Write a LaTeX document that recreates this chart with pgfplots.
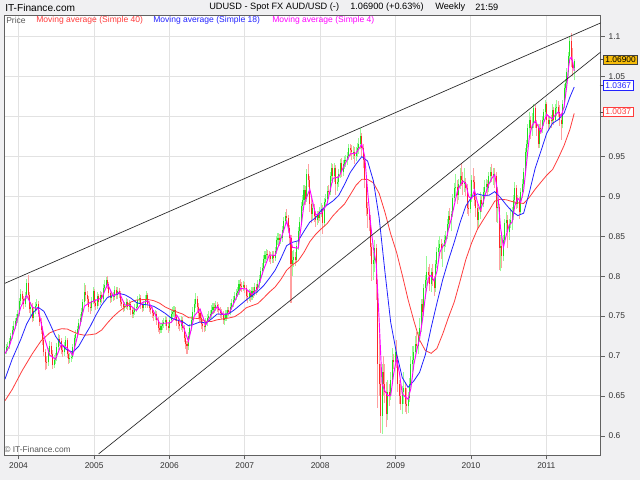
\documentclass[border=0pt]{standalone}
\usepackage{fontspec}
\setmainfont{Liberation Sans}
\usepackage{pgfplots}
\usepackage{pgfplotstable}
\pgfplotsset{compat=1.18}
\definecolor{bgc}{RGB}{240,240,242}
\definecolor{upw}{RGB}{150,250,150}
\definecolor{dnw}{RGB}{255,160,160}
\definecolor{upb}{RGB}{30,225,30}
\definecolor{dnb}{RGB}{255,40,40}
\definecolor{smaA}{RGB}{255,60,60}
\definecolor{smaB}{RGB}{35,35,255}
\definecolor{smaC}{RGB}{255,0,255}
\definecolor{goldc}{RGB}{246,188,10}
\definecolor{gridc}{RGB}{226,226,226}

% weekly bars: week index (0 = 27 Oct 2003), low, high, c=1 up / 0 down
\pgfplotstableread{
w lo hi c
0 0.697 0.710 1
1 0.702 0.715 1
2 0.706 0.718 1
3 0.709 0.723 1
4 0.716 0.729 1
5 0.721 0.737 1
6 0.728 0.744 1
7 0.734 0.748 1
8 0.738 0.752 1
9 0.741 0.757 1
10 0.750 0.773 1
11 0.764 0.784 1
12 0.765 0.782 0
13 0.759 0.775 0
14 0.761 0.780 1
15 0.771 0.797 1
16 0.772 0.801 0
17 0.754 0.780 0
18 0.750 0.768 1
19 0.742 0.766 0
20 0.744 0.761 1
21 0.752 0.768 1
22 0.756 0.772 1
23 0.749 0.769 0
24 0.738 0.757 0
25 0.728 0.748 0
26 0.714 0.737 0
27 0.700 0.724 0
28 0.682 0.709 0
29 0.684 0.700 0
30 0.688 0.710 1
31 0.701 0.719 1
32 0.699 0.717 0
33 0.684 0.707 0
34 0.685 0.701 1
35 0.690 0.704 1
36 0.694 0.716 1
37 0.707 0.727 1
38 0.713 0.726 0
39 0.702 0.722 0
40 0.699 0.712 0
41 0.700 0.717 1
42 0.708 0.725 1
43 0.698 0.723 0
44 0.690 0.707 0
45 0.691 0.704 1
46 0.693 0.705 1
47 0.696 0.715 1
48 0.708 0.726 1
49 0.717 0.733 1
50 0.723 0.738 1
51 0.729 0.746 1
52 0.737 0.752 1
53 0.743 0.760 1
54 0.751 0.772 1
55 0.764 0.792 1
56 0.769 0.789 0
57 0.765 0.781 0
58 0.755 0.775 0
59 0.753 0.767 0
60 0.756 0.774 1
61 0.765 0.786 1
62 0.761 0.784 0
63 0.757 0.771 0
64 0.759 0.780 1
65 0.763 0.778 0
66 0.764 0.781 1
67 0.766 0.780 0
68 0.768 0.790 1
69 0.780 0.795 1
70 0.785 0.799 1
71 0.784 0.800 0
72 0.773 0.793 0
73 0.767 0.783 0
74 0.768 0.780 1
75 0.769 0.780 0
76 0.770 0.788 1
77 0.771 0.787 0
78 0.772 0.786 1
79 0.773 0.785 0
80 0.763 0.782 0
81 0.760 0.772 0
82 0.755 0.769 0
83 0.756 0.768 1
84 0.759 0.773 1
85 0.757 0.772 0
86 0.758 0.770 1
87 0.751 0.768 0
88 0.747 0.761 0
89 0.748 0.760 1
90 0.751 0.765 1
91 0.755 0.768 1
92 0.758 0.775 1
93 0.765 0.778 1
94 0.759 0.777 0
95 0.755 0.768 0
96 0.756 0.769 1
97 0.760 0.777 1
98 0.768 0.781 1
99 0.760 0.779 0
100 0.755 0.769 0
101 0.752 0.764 0
102 0.748 0.762 0
103 0.744 0.758 0
104 0.745 0.757 1
105 0.739 0.756 0
106 0.730 0.749 0
107 0.727 0.740 0
108 0.729 0.741 1
109 0.733 0.745 1
110 0.735 0.748 1
111 0.737 0.750 1
112 0.732 0.749 0
113 0.729 0.741 0
114 0.731 0.750 1
115 0.741 0.757 1
116 0.747 0.761 1
117 0.749 0.763 1
118 0.744 0.761 0
119 0.738 0.753 0
120 0.734 0.748 0
121 0.731 0.745 0
122 0.733 0.750 1
123 0.730 0.749 0
124 0.717 0.739 0
125 0.709 0.726 0
126 0.703 0.719 0
127 0.708 0.730 1
128 0.721 0.740 1
129 0.731 0.750 1
130 0.741 0.761 1
131 0.751 0.771 1
132 0.760 0.779 1
133 0.756 0.775 0
134 0.747 0.767 0
135 0.741 0.759 0
136 0.734 0.752 0
137 0.730 0.745 0
138 0.730 0.742 0
139 0.731 0.747 1
140 0.738 0.752 1
141 0.742 0.756 1
142 0.745 0.757 1
143 0.747 0.764 1
144 0.753 0.767 1
145 0.754 0.766 0
146 0.756 0.769 1
147 0.755 0.768 0
148 0.751 0.765 0
149 0.748 0.761 0
150 0.746 0.759 0
151 0.740 0.756 0
152 0.739 0.753 1
153 0.744 0.757 1
154 0.748 0.762 1
155 0.750 0.762 0
156 0.751 0.767 1
157 0.757 0.772 1
158 0.762 0.775 1
159 0.766 0.780 1
160 0.770 0.784 1
161 0.774 0.786 1
162 0.777 0.795 1
163 0.782 0.797 0
164 0.780 0.793 0
165 0.781 0.794 1
166 0.779 0.793 0
167 0.769 0.789 0
168 0.767 0.781 0
169 0.769 0.784 1
170 0.768 0.783 0
171 0.770 0.786 1
172 0.773 0.786 0
173 0.775 0.791 1
174 0.777 0.790 0
175 0.779 0.795 1
176 0.785 0.801 1
177 0.792 0.811 1
178 0.801 0.816 1
179 0.806 0.826 1
180 0.816 0.831 1
181 0.820 0.834 1
182 0.821 0.833 0
183 0.818 0.832 0
184 0.815 0.830 0
185 0.817 0.831 1
186 0.817 0.831 0
187 0.819 0.837 1
188 0.828 0.850 1
189 0.839 0.854 1
190 0.838 0.853 0
191 0.840 0.853 1
192 0.843 0.863 1
193 0.854 0.874 1
194 0.864 0.880 1
195 0.866 0.884 0
196 0.854 0.877 0
197 0.840 0.864 0
198 0.767 0.852 0
199 0.800 0.832 1
200 0.812 0.833 1
201 0.813 0.830 0
202 0.816 0.843 1
203 0.833 0.862 1
204 0.852 0.874 1
205 0.864 0.893 1
206 0.882 0.901 1
207 0.889 0.914 1
208 0.889 0.913 0
209 0.893 0.934 1
210 0.912 0.940 0
211 0.880 0.925 0
212 0.866 0.898 0
213 0.871 0.892 1
214 0.868 0.890 0
215 0.862 0.881 0
216 0.864 0.882 1
217 0.867 0.881 0
218 0.869 0.886 1
219 0.874 0.891 1
220 0.853 0.889 0
221 0.862 0.898 1
222 0.886 0.903 1
223 0.891 0.913 1
224 0.898 0.914 0
225 0.901 0.931 1
226 0.919 0.942 1
227 0.917 0.941 0
228 0.918 0.942 1
229 0.902 0.939 0
230 0.906 0.925 1
231 0.912 0.934 1
232 0.923 0.947 1
233 0.924 0.948 0
234 0.925 0.946 1
235 0.934 0.951 1
236 0.937 0.952 1
237 0.939 0.956 1
238 0.945 0.966 1
239 0.950 0.966 0
240 0.946 0.964 0
241 0.947 0.963 1
242 0.941 0.962 0
243 0.944 0.962 1
244 0.949 0.967 1
245 0.953 0.973 1
246 0.959 0.985 1
247 0.951 0.979 0
248 0.935 0.966 0
249 0.910 0.950 0
250 0.875 0.925 0
251 0.860 0.893 0
252 0.856 0.884 0
253 0.825 0.877 0
254 0.794 0.842 0
255 0.795 0.830 1
256 0.805 0.845 1
257 0.770 0.840 0
258 0.635 0.795 0
259 0.650 0.727 0
260 0.604 0.690 0
261 0.603 0.690 1
262 0.650 0.700 0
263 0.641 0.690 0
264 0.611 0.668 0
265 0.620 0.670 1
266 0.638 0.665 0
267 0.645 0.680 1
268 0.666 0.710 1
269 0.684 0.703 0
270 0.688 0.712 1
271 0.685 0.720 0
272 0.655 0.700 0
273 0.640 0.670 0
274 0.633 0.665 0
275 0.627 0.662 1
276 0.640 0.680 1
277 0.630 0.667 0
278 0.627 0.660 0
279 0.629 0.655 1
280 0.643 0.672 1
281 0.660 0.700 1
282 0.680 0.712 1
283 0.682 0.712 1
284 0.700 0.725 1
285 0.705 0.730 0
286 0.702 0.730 1
287 0.718 0.748 1
288 0.730 0.772 1
289 0.748 0.772 0
290 0.750 0.790 1
291 0.772 0.801 1
292 0.788 0.825 1
293 0.792 0.812 0
294 0.782 0.815 0
295 0.780 0.810 1
296 0.788 0.815 0
297 0.775 0.800 0
298 0.780 0.820 1
299 0.810 0.836 1
300 0.820 0.845 1
301 0.828 0.850 1
302 0.822 0.846 0
303 0.812 0.842 1
304 0.830 0.852 1
305 0.836 0.857 1
306 0.846 0.871 1
307 0.858 0.881 1
308 0.860 0.885 0
309 0.856 0.882 1
310 0.874 0.903 1
311 0.893 0.916 1
312 0.900 0.928 1
313 0.890 0.920 0
314 0.895 0.921 1
315 0.909 0.935 1
316 0.913 0.942 0
317 0.902 0.930 0
318 0.905 0.935 1
319 0.900 0.923 0
320 0.878 0.915 0
321 0.875 0.892 0
322 0.879 0.903 1
323 0.893 0.927 1
324 0.909 0.935 0
325 0.888 0.926 0
326 0.874 0.900 0
327 0.858 0.890 0
328 0.860 0.886 1
329 0.872 0.905 1
330 0.880 0.900 0
331 0.886 0.911 1
332 0.898 0.920 1
333 0.904 0.921 1
334 0.900 0.920 0
335 0.905 0.930 1
336 0.916 0.937 1
337 0.918 0.940 0
338 0.914 0.935 1
339 0.910 0.936 0
340 0.868 0.930 0
341 0.866 0.912 1
342 0.808 0.890 0
343 0.806 0.852 1
344 0.810 0.855 0
345 0.819 0.851 1
346 0.842 0.872 1
347 0.855 0.880 1
348 0.835 0.876 0
349 0.845 0.871 1
350 0.860 0.885 1
351 0.858 0.887 1
352 0.870 0.901 1
353 0.890 0.918 1
354 0.884 0.914 0
355 0.885 0.902 1
356 0.872 0.899 0
357 0.877 0.910 1
358 0.898 0.921 1
359 0.910 0.935 1
360 0.926 0.960 1
361 0.945 0.971 1
362 0.960 0.990 1
363 0.978 1.006 1
364 0.972 1.001 0
365 0.976 1.004 1
366 0.985 1.016 1
367 0.986 1.014 0
368 0.976 0.996 0
369 0.960 0.990 0
370 0.961 0.990 1
371 0.978 0.995 0
372 0.979 1.000 1
373 0.988 1.009 1
374 1.000 1.020 1
375 0.990 1.018 0
376 0.983 1.001 0
377 0.984 1.000 1
378 0.986 1.002 0
379 0.992 1.015 1
380 0.989 1.012 0
381 0.993 1.016 1
382 1.001 1.021 1
383 0.999 1.019 0
384 0.988 1.014 0
385 0.971 1.004 0
386 0.985 1.020 1
387 1.010 1.040 1
388 1.028 1.047 1
389 1.034 1.060 1
390 1.050 1.081 1
391 1.068 1.100 1
392 1.062 1.105 0
393 1.050 1.085 0
394 1.045 1.072 1
}\price

% weekly open and close (bodies)
\pgfplotstableread{
w o cl
0 0.700 0.705
1 0.705 0.711
2 0.711 0.713
3 0.713 0.719
4 0.719 0.725
5 0.725 0.733
6 0.733 0.738
7 0.738 0.744
8 0.744 0.747
9 0.747 0.752
10 0.752 0.769
11 0.769 0.778
12 0.778 0.771
13 0.771 0.765
14 0.765 0.775
15 0.775 0.792
16 0.792 0.776
17 0.776 0.759
18 0.759 0.762
19 0.762 0.747
20 0.747 0.756
21 0.756 0.763
22 0.763 0.765
23 0.765 0.753
24 0.753 0.743
25 0.743 0.733
26 0.733 0.720
27 0.720 0.705
28 0.705 0.693
29 0.693 0.692
30 0.692 0.705
31 0.705 0.713
32 0.713 0.703
33 0.703 0.689
34 0.689 0.695
35 0.695 0.698
36 0.698 0.711
37 0.711 0.721
38 0.721 0.719
39 0.719 0.707
40 0.707 0.705
41 0.705 0.712
42 0.712 0.720
43 0.720 0.703
44 0.703 0.696
45 0.696 0.698
46 0.698 0.699
47 0.699 0.711
48 0.711 0.722
49 0.722 0.727
50 0.727 0.734
51 0.734 0.741
52 0.741 0.747
53 0.747 0.755
54 0.755 0.768
55 0.768 0.780
56 0.780 0.776
57 0.776 0.771
58 0.771 0.761
59 0.761 0.760
60 0.760 0.769
61 0.769 0.781
62 0.781 0.766
63 0.766 0.763
64 0.763 0.775
65 0.775 0.768
66 0.768 0.776
67 0.776 0.771
68 0.771 0.785
69 0.785 0.789
70 0.789 0.795
71 0.795 0.790
72 0.790 0.779
73 0.779 0.773
74 0.773 0.775
75 0.775 0.774
76 0.774 0.783
77 0.783 0.776
78 0.776 0.782
79 0.782 0.779
80 0.779 0.768
81 0.768 0.765
82 0.765 0.761
83 0.761 0.763
84 0.763 0.768
85 0.768 0.762
86 0.762 0.765
87 0.765 0.757
88 0.757 0.752
89 0.752 0.755
90 0.755 0.760
91 0.760 0.762
92 0.762 0.770
93 0.770 0.773
94 0.773 0.764
95 0.764 0.760
96 0.760 0.764
97 0.764 0.772
98 0.772 0.776
99 0.776 0.765
100 0.765 0.760
101 0.760 0.758
102 0.758 0.754
103 0.754 0.750
104 0.750 0.752
105 0.752 0.745
106 0.745 0.735
107 0.735 0.733
108 0.733 0.737
109 0.737 0.740
110 0.740 0.742
111 0.742 0.745
112 0.745 0.737
113 0.737 0.735
114 0.735 0.745
115 0.745 0.752
116 0.752 0.755
117 0.755 0.757
118 0.757 0.749
119 0.749 0.744
120 0.744 0.740
121 0.740 0.737
122 0.737 0.745
123 0.745 0.735
124 0.735 0.722
125 0.722 0.715
126 0.715 0.712
127 0.712 0.725
128 0.725 0.735
129 0.735 0.745
130 0.745 0.755
131 0.755 0.765
132 0.765 0.771
133 0.771 0.762
134 0.762 0.754
135 0.754 0.748
136 0.748 0.740
137 0.740 0.737
138 0.737 0.736
139 0.736 0.742
140 0.742 0.747
141 0.747 0.750
142 0.750 0.752
143 0.752 0.758
144 0.758 0.762
145 0.762 0.760
146 0.760 0.764
147 0.764 0.761
148 0.761 0.757
149 0.757 0.754
150 0.754 0.752
151 0.752 0.745
152 0.745 0.748
153 0.748 0.752
154 0.752 0.757
155 0.757 0.755
156 0.755 0.762
157 0.762 0.767
158 0.767 0.770
159 0.770 0.775
160 0.775 0.779
161 0.779 0.781
162 0.781 0.790
163 0.790 0.788
164 0.788 0.786
165 0.786 0.789
166 0.789 0.785
167 0.785 0.775
168 0.775 0.774
169 0.774 0.779
170 0.779 0.774
171 0.774 0.781
172 0.781 0.779
173 0.779 0.786
174 0.786 0.783
175 0.783 0.790
176 0.790 0.796
177 0.796 0.806
178 0.806 0.810
179 0.810 0.821
180 0.821 0.826
181 0.826 0.828
182 0.828 0.827
183 0.827 0.825
184 0.825 0.822
185 0.822 0.826
186 0.826 0.823
187 0.823 0.832
188 0.832 0.845
189 0.845 0.848
190 0.848 0.845
191 0.845 0.848
192 0.848 0.858
193 0.858 0.869
194 0.869 0.875
195 0.875 0.873
196 0.873 0.860
197 0.860 0.848
198 0.848 0.815
199 0.815 0.820
200 0.820 0.824
201 0.824 0.820
202 0.820 0.838
203 0.838 0.857
204 0.857 0.868
205 0.868 0.888
206 0.888 0.895
207 0.895 0.908
208 0.908 0.897
209 0.897 0.928
210 0.928 0.920
211 0.920 0.890
212 0.890 0.878
213 0.878 0.885
214 0.885 0.875
215 0.875 0.870
216 0.870 0.877
217 0.877 0.873
218 0.873 0.880
219 0.880 0.884
220 0.884 0.867
221 0.867 0.893
222 0.893 0.896
223 0.896 0.907
224 0.907 0.905
225 0.905 0.925
226 0.925 0.935
227 0.935 0.925
228 0.925 0.935
229 0.935 0.915
230 0.915 0.918
231 0.918 0.928
232 0.928 0.942
233 0.942 0.930
234 0.930 0.940
235 0.940 0.945
236 0.945 0.946
237 0.946 0.950
238 0.950 0.960
239 0.960 0.958
240 0.958 0.955
241 0.955 0.956
242 0.956 0.950
243 0.950 0.955
244 0.955 0.960
245 0.960 0.966
246 0.966 0.975
247 0.975 0.960
248 0.960 0.945
249 0.945 0.920
250 0.920 0.885
251 0.885 0.878
252 0.878 0.870
253 0.870 0.836
254 0.836 0.815
255 0.815 0.820
256 0.820 0.835
257 0.835 0.790
258 0.790 0.690
259 0.690 0.665
260 0.665 0.625
261 0.625 0.680
262 0.680 0.665
263 0.665 0.655
264 0.655 0.627
265 0.627 0.655
266 0.655 0.650
267 0.650 0.670
268 0.670 0.695
269 0.695 0.692
270 0.692 0.705
271 0.705 0.695
272 0.695 0.665
273 0.665 0.650
274 0.650 0.640
275 0.640 0.655
276 0.655 0.660
277 0.660 0.640
278 0.640 0.637
279 0.637 0.648
280 0.648 0.665
281 0.665 0.690
282 0.690 0.695
283 0.695 0.705
284 0.705 0.715
285 0.715 0.712
286 0.712 0.725
287 0.725 0.735
288 0.735 0.765
289 0.765 0.755
290 0.755 0.785
291 0.785 0.795
292 0.795 0.805
293 0.805 0.802
294 0.802 0.790
295 0.790 0.805
296 0.805 0.795
297 0.795 0.785
298 0.785 0.815
299 0.815 0.830
300 0.830 0.835
301 0.835 0.840
302 0.840 0.835
303 0.835 0.838
304 0.838 0.845
305 0.845 0.850
306 0.850 0.865
307 0.865 0.875
308 0.875 0.870
309 0.870 0.878
310 0.878 0.898
311 0.898 0.910
312 0.910 0.912
313 0.912 0.902
314 0.902 0.915
315 0.915 0.925
316 0.925 0.920
317 0.920 0.915
318 0.915 0.918
319 0.918 0.910
320 0.910 0.885
321 0.885 0.884
322 0.884 0.897
323 0.897 0.920
324 0.920 0.918
325 0.918 0.895
326 0.895 0.885
327 0.885 0.870
328 0.870 0.880
329 0.880 0.895
330 0.895 0.890
331 0.890 0.905
332 0.905 0.912
333 0.912 0.915
334 0.915 0.910
335 0.910 0.925
336 0.925 0.930
337 0.930 0.925
338 0.925 0.928
339 0.928 0.925
340 0.925 0.885
341 0.885 0.886
342 0.886 0.835
343 0.835 0.838
344 0.838 0.825
345 0.825 0.845
346 0.845 0.866
347 0.866 0.870
348 0.870 0.855
349 0.855 0.865
350 0.865 0.870
351 0.870 0.880
352 0.880 0.895
353 0.895 0.910
354 0.910 0.890
355 0.890 0.895
356 0.895 0.880
357 0.880 0.905
358 0.905 0.915
359 0.915 0.930
360 0.930 0.955
361 0.955 0.965
362 0.965 0.985
363 0.985 0.995
364 0.995 0.985
365 0.985 0.990
366 0.990 1.010
367 1.010 0.992
368 0.992 0.985
369 0.985 0.965
370 0.965 0.985
371 0.985 0.984
372 0.984 0.995
373 0.995 1.005
374 1.005 1.015
375 1.015 0.995
376 0.995 0.990
377 0.990 0.995
378 0.995 0.994
379 0.994 1.008
380 1.008 0.995
381 0.995 1.010
382 1.010 1.012
383 1.012 1.005
384 1.005 0.995
385 0.995 0.990
386 0.990 1.015
387 1.015 1.035
388 1.035 1.042
389 1.042 1.055
390 1.055 1.075
391 1.075 1.095
392 1.095 1.070
393 1.070 1.060
394 1.060 1.069
}\body

\pgfplotstableread{
w v
0 0.703
3 0.712
7 0.735
11 0.7615
15 0.776
19 0.761
23 0.759
27 0.725
31 0.701
35 0.696
39 0.7145
43 0.710
47 0.701
51 0.731
55 0.7625
59 0.767
63 0.770
67 0.7725
71 0.790
75 0.775
79 0.780
83 0.764
87 0.763
91 0.757
95 0.767
99 0.769
103 0.7555
107 0.741
111 0.741
115 0.742
119 0.751
123 0.739
127 0.7185
131 0.750
135 0.759
139 0.739
143 0.752
147 0.762
151 0.752
155 0.753
159 0.7685
163 0.7845
167 0.784
171 0.777
175 0.7845
179 0.808
183 0.8265
187 0.826
191 0.8465
195 0.869
199 0.836
203 0.835
207 0.890
211 0.909
215 0.877
219 0.8785
223 0.891
227 0.9225
231 0.924
235 0.939
239 0.953
243 0.954
247 0.965
249 0.950
251 0.907
253 0.867
255 0.835
257 0.815
259 0.745
261 0.665
263 0.656
265 0.6505
267 0.6505
269 0.677
271 0.697
273 0.679
275 0.6525
277 0.649
279 0.646
281 0.660
283 0.689
285 0.707
287 0.722
289 0.745
291 0.775
293 0.7975
295 0.801
297 0.794
299 0.806
301 0.830
303 0.837
305 0.842
307 0.859
309 0.872
311 0.889
313 0.9055
315 0.9135
317 0.919
319 0.916
321 0.8995
323 0.897
325 0.908
327 0.8925
329 0.8825
331 0.8925
333 0.9055
335 0.9155
337 0.9225
339 0.927
341 0.906
343 0.861
345 0.836
347 0.8515
349 0.864
351 0.8675
353 0.889
355 0.8975
357 0.8925
359 0.9075
361 0.941
363 0.975
365 0.989
367 0.994
369 0.988
371 0.980
373 0.9925
375 1.0025
377 0.999
379 0.997
381 1.002
383 1.0055
385 1.0005
387 1.012
389 1.040
390 1.060
391 1.072
392 1.074
393 1.068
394 1.057
}\smafour

\pgfplotstableread{
w v
0 0.671
5 0.696
11 0.721
15 0.740
19 0.753
23 0.761
27 0.756
31 0.741
35 0.7248
39 0.7147
43 0.7076
47 0.7049
51 0.7121
55 0.7248
59 0.737
63 0.7513
67 0.7639
71 0.7735
75 0.7758
79 0.7783
83 0.7767
87 0.7727
91 0.767
95 0.7647
99 0.764
103 0.7622
107 0.758
111 0.7533
115 0.7476
119 0.7451
123 0.743
127 0.738
131 0.7399
135 0.7427
139 0.7413
143 0.7465
147 0.7527
151 0.7521
155 0.753
159 0.7581
163 0.7642
167 0.7702
171 0.7757
175 0.781
179 0.788
183 0.7973
187 0.8074
191 0.822
195 0.8382
199 0.8424
203 0.8443
207 0.8563
211 0.8677
215 0.8731
219 0.8827
223 0.889
227 0.8941
231 0.901
235 0.9146
239 0.9298
243 0.9403
247 0.9496
251 0.9441
255 0.9194
259 0.8731
263 0.8057
267 0.7422
271 0.7036
275 0.673
279 0.6609
283 0.6688
287 0.6796
291 0.7018
295 0.7356
299 0.7663
303 0.7956
307 0.8201
311 0.8426
315 0.867
319 0.888
323 0.8989
327 0.903
331 0.9011
335 0.9012
339 0.9058
343 0.8983
347 0.8892
351 0.881
355 0.8758
359 0.8788
363 0.9052
367 0.935
371 0.9567
375 0.979
379 0.9913
383 0.996
387 1.004
391 1.024
394 1.0367
}\smaeighteen

\pgfplotstableread{
w v
0 0.644
5 0.658
12 0.682
19 0.703
25 0.719
31 0.729
35 0.732
39 0.7341
43 0.7339
47 0.7305
51 0.7275
55 0.7261
59 0.7267
63 0.7278
67 0.7326
71 0.7415
75 0.7494
79 0.7559
83 0.7613
87 0.7675
91 0.7701
95 0.7706
99 0.7708
103 0.7693
107 0.7662
111 0.7613
115 0.758
119 0.7551
123 0.7526
127 0.7481
131 0.7474
135 0.7466
139 0.7436
143 0.7433
147 0.7454
151 0.7465
155 0.7476
159 0.7493
163 0.7539
167 0.7604
171 0.7631
175 0.7657
179 0.7726
183 0.780
187 0.7864
191 0.7959
195 0.8075
199 0.8142
203 0.8193
207 0.8299
211 0.8431
215 0.8523
219 0.8594
223 0.8658
227 0.8755
231 0.8832
235 0.8902
239 0.9019
243 0.9138
247 0.9213
251 0.9211
255 0.9169
259 0.9036
263 0.8801
267 0.8529
271 0.8302
275 0.8015
279 0.7708
283 0.7443
287 0.720
291 0.7068
295 0.7034
299 0.7095
303 0.7276
307 0.7485
311 0.7677
315 0.7938
319 0.8208
323 0.8416
327 0.8586
331 0.8704
335 0.8818
339 0.8939
343 0.8963
347 0.8956
351 0.8934
355 0.8918
359 0.891
363 0.8988
367 0.9089
371 0.9177
375 0.9264
379 0.9334
383 0.9478
387 0.9636
391 0.9835
394 1.0037
}\smaforty

\begin{document}
\begin{tikzpicture}[x=0.75pt,y=0.75pt]
\useasboundingbox (0,0) rectangle (640,480);
\fill[bgc] (0,0) rectangle (640,480);
\begin{axis}[
  at={(3.3,31.2)}, anchor=south west,
  scale only axis, width=446.9pt, height=329.5pt,
  xmin=-0.12, xmax=412.3, ymin=0.576, ymax=1.126,
  axis background/.style={fill=white},
  axis line style={draw=black!62, line width=0.75pt},
  xtick={9.43,61.71,113.86,166.0,218.14,270.43,322.57,374.71},
  xticklabels={2004,2005,2006,2007,2008,2009,2010,2011},
  ytick={0.6,0.65,0.7,0.75,0.8,0.85,0.9,0.95,1,1.05,1.1},
  yticklabels={0.6,0.65,0.7,0.75,0.8,0.85,0.9,0.95,{},1.05,1.1},
  xtick pos=left, ytick pos=right, yticklabel pos=right,
  tick align=outside, major tick length=3pt,
  tick style={draw=black!62, line width=0.6pt},
  grid=major, major grid style={draw=gridc, line width=0.75pt},
  ticklabel style={font=\fontsize{6.3}{7}\selectfont, text=black!80},
  yticklabel style={xshift=-0.5pt},
  xticklabel style={yshift=1pt},
  clip=true,
]
\addplot[draw=upw, line width=0.78pt, quiver={u=0, v=\thisrow{hi}-\thisrow{lo}},
  restrict expr to domain={\thisrow{c}}{0.5:1.5}] table[x=w, y=lo] {\price};
\addplot[draw=dnw, line width=0.78pt, quiver={u=0, v=\thisrow{hi}-\thisrow{lo}},
  restrict expr to domain={\thisrow{c}}{-0.5:0.5}] table[x=w, y=lo] {\price};
\addplot[draw=upb, line width=0.78pt, quiver={u=0, v=\thisrow{cl}-\thisrow{o}},
  restrict expr to domain={\thisrow{cl}-\thisrow{o}}{0:1}] table[x=w, y=o] {\body};
\addplot[draw=dnb, line width=0.78pt, quiver={u=0, v=\thisrow{cl}-\thisrow{o}},
  restrict expr to domain={\thisrow{cl}-\thisrow{o}}{-1:-0.0001}] table[x=w, y=o] {\body};
\addplot[smaA, line width=0.6pt, mark=none] table[x=w, y=v] {\smaforty};
\addplot[smaB, line width=0.6pt, mark=none] table[x=w, y=v] {\smaeighteen};
\addplot[smaC, line width=0.7pt, mark=none] table[x=w, y=v] {\smafour};
\addplot[black!85, line width=0.5pt, mark=none] coordinates {(-0.12,0.791) (412.3,1.117)};
\addplot[black!85, line width=0.5pt, mark=none] coordinates {(64.85,0.5775) (412.3,1.0805)};
\end{axis}
% header
\node[anchor=west, inner sep=0pt, font=\fontsize{7.6}{9}\selectfont] at (5,472.5) {IT-Finance.com};
\node[anchor=west, inner sep=0pt, font=\fontsize{6.9}{9}\selectfont] at (209,472.5) {UDUSD - Spot FX AUD/USD (-)};
\node[anchor=west, inner sep=0pt, font=\fontsize{6.9}{9}\selectfont] at (350,472.5) {1.06900 (+0.63\%)};
\node[anchor=west, inner sep=0pt, font=\fontsize{6.9}{9}\selectfont] at (435,472.5) {Weekly};
\node[anchor=west, inner sep=0pt, font=\fontsize{6.9}{9}\selectfont] at (475,472.5) {21:59};
% legend
\node[anchor=west, inner sep=0pt, font=\fontsize{6.4}{8}\selectfont, text=black!65] at (6,460) {Price};
\node[anchor=west, inner sep=0pt, font=\fontsize{6.4}{8}\selectfont, text=smaA] at (36,460) {Moving average (Simple 40)};
\node[anchor=west, inner sep=0pt, font=\fontsize{6.4}{8}\selectfont, text=smaB] at (153,460) {Moving average (Simple 18)};
\node[anchor=west, inner sep=0pt, font=\fontsize{6.4}{8}\selectfont, text=smaC] at (272,460) {Moving average (Simple 4)};
% copyright
\node[anchor=west, inner sep=0pt, font=\fontsize{6.3}{8}\selectfont, text=black!65] at (4,31) {\textcopyright{} IT-Finance.com};
% value boxes
\draw[black!70, line width=0.6pt] (599.5,420.2) -- (603,420.2);
\node[anchor=west, draw=black!75, fill=goldc, line width=0.6pt, inner xsep=1.5pt, inner ysep=1.4pt, font=\fontsize{6.3}{7}\selectfont] at (603,420.2) {1.06900};
\draw[black!70, line width=0.6pt] (599.5,394.4) -- (603,394.4);
\node[anchor=west, draw=smaB, fill=white, line width=0.6pt, inner xsep=1.5pt, inner ysep=1.4pt, text=smaB, font=\fontsize{6.3}{7}\selectfont] at (603,394.4) {1.0367};
\draw[black!70, line width=0.6pt] (599.5,368) -- (603,368);
\node[anchor=west, draw=smaA, fill=white, line width=0.6pt, inner xsep=1.5pt, inner ysep=1.4pt, text=smaA, font=\fontsize{6.3}{7}\selectfont] at (603,368) {1.0037};
\end{tikzpicture}
\end{document}
